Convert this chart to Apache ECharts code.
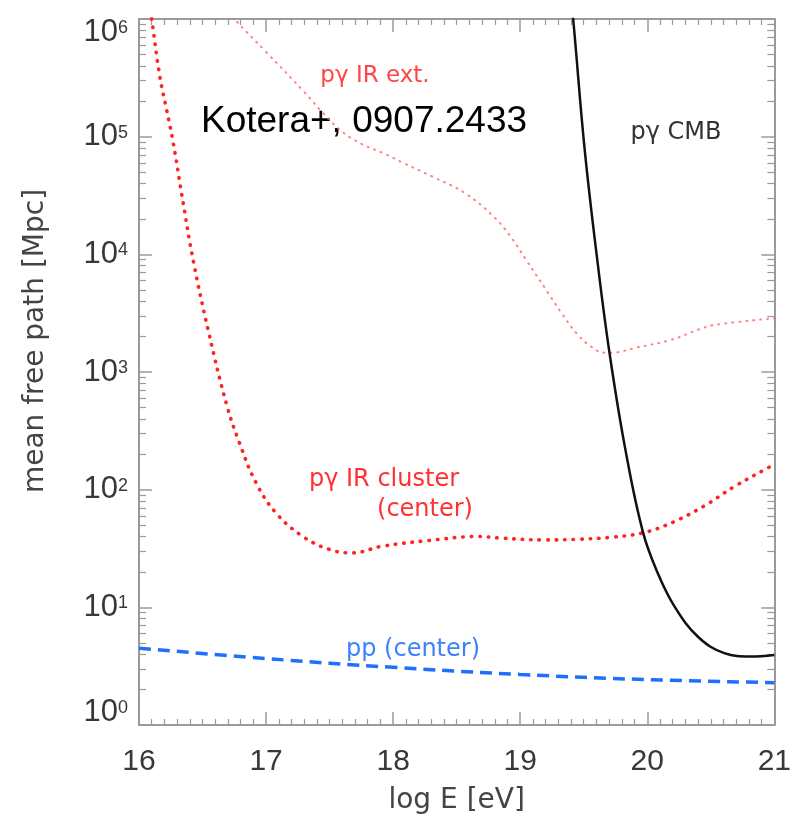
<!DOCTYPE html>
<html><head><meta charset="utf-8">
<script src="https://cdn.jsdelivr.net/npm/echarts@6/dist/echarts.min.js"></script>
<style>html,body{margin:0;padding:0;background:#fff}#c{width:794px;height:824px}</style>
</head><body><div id="c"></div>
<script>
// ---- data (log E [eV], mean free path [Mpc]) ----
const xTickValues = [16, 17, 18, 19, 20, 21];
const yDecadeExponents = [0, 1, 2, 3, 4, 5, 6];

const cmbE   = [19.40, 19.417, 19.508, 19.613, 19.703, 19.824, 19.965, 20.083, 20.214, 20.397, 20.606, 20.81, 21.00];
const cmbMfp = [1.4e6, 1.0e6, 7.7e4, 7.9e3, 1450, 231, 44, 19.5, 10.2, 5.65, 4.08, 3.82, 3.94];

const clusterE   = [16.08, 16.10, 16.165, 16.217, 16.27, 16.335, 16.43, 16.55, 16.69, 16.79, 16.92, 17.08, 17.29, 17.50, 17.68, 17.91, 18.28, 18.67, 18.855, 19.195, 19.456, 19.717, 19.979, 20.214, 20.449, 20.684, 20.958, 21.0];
const clusterMfp = [1.4e6, 1.0e6, 3.2e5, 1.69e5, 8.8e4, 3.3e4, 8500, 2140, 525, 251, 115, 63, 40, 31, 29, 33, 37, 40, 38.7, 37.4, 37.9, 39.4, 43.3, 53.6, 72.8, 106, 155, 164];

const extE   = [16.70, 16.75, 17.0, 17.3, 17.45, 17.6, 17.75, 17.94, 18.07, 18.31, 18.568, 18.803, 18.934, 19.038, 19.221, 19.326, 19.443, 19.548, 19.665, 19.717, 19.913, 20.187, 20.397, 20.527, 21.0];
const extMfp = [1.17e6, 1.0e6, 5.25e5, 2.4e5, 1.58e5, 1.1e5, 8.7e4, 7.1e4, 6.05e4, 4.57e4, 3.3e4, 2.03e4, 1.37e4, 9270, 4680, 3160, 2140, 1670, 1460, 1460, 1610, 1875, 2280, 2510, 2860];

const ppE   = [16, 17, 18, 19, 20, 21];
const ppMfp = [4.5, 3.67, 3.09, 2.69, 2.43, 2.29];

// ---- build ----
const pairs = (xs, ys) => xs.map((x, i) => [x, ys[i]]);
const minorLog = [];
for (let n = 0; n < 6; n++) for (let k = 2; k <= 9; k++) minorLog.push(n + Math.log10(k));

const AX = '#9a9a9a';
const TXT = '#383838';

const chart = echarts.init(document.getElementById('c'), null, {renderer: 'canvas'});

function xAx(pos, labels) {
  return {
    type: 'value', position: pos, min: 16, max: 21, interval: 1,
    name: labels ? 'log E [eV]' : '', nameLocation: 'middle', nameGap: 62,
    nameTextStyle: {fontFamily: 'DejaVu Sans', fontSize: 28, color: '#444'},
    axisLine: {show: true, onZero: false, lineStyle: {color: AX, width: 2}},
    axisTick: {show: true, inside: true, length: 13, lineStyle: {color: AX, width: 1.5}},
    minorTick: {show: true, splitNumber: 10, length: 6, lineStyle: {color: AX, width: 1.2}},
    axisLabel: {show: labels, margin: 22, fontFamily: 'Liberation Sans', fontSize: 30, color: TXT},
    splitLine: {show: false}, minorSplitLine: {show: false}
  };
}
function yMajor(pos, labels) {
  return {
    type: 'value', position: pos, min: 0, max: 6, interval: 1,
    axisLine: {show: true, onZero: false, lineStyle: {color: AX, width: 2}},
    axisTick: {show: true, inside: true, length: 13, lineStyle: {color: AX, width: 1.5}},
    axisLabel: {
      show: labels, margin: 11,
      formatter: v => '{b|10}{s|' + v + '}',
      verticalAlignMinLabel: 'bottom', verticalAlignMaxLabel: 'top',
      rich: {
        b: {fontFamily: 'Liberation Sans', fontSize: 31, color: TXT, lineHeight: 26},
        s: {fontFamily: 'Liberation Sans', fontSize: 18, color: TXT, verticalAlign: 'top', lineHeight: 16}
      }
    },
    splitLine: {show: false}
  };
}
function yMinor(pos) {
  return {
    type: 'value', position: pos, min: 0, max: 6,
    axisLine: {show: false},
    axisTick: {show: true, inside: true, length: 7, customValues: minorLog, lineStyle: {color: AX, width: 1.2}},
    axisLabel: {show: false},
    splitLine: {show: false}
  };
}

chart.setOption({
  backgroundColor: '#fff',
  animation: false,
  grid: {left: 139, right: 17, top: 19, bottom: 99, containLabel: false},
  xAxis: [xAx('bottom', true), xAx('top', false)],
  yAxis: [
    {type: 'log', logBase: 10, min: 1, max: 1e6, show: false},
    yMajor('left', true), yMinor('left'), yMajor('right', false), yMinor('right')
  ],
  series: [
    {name: 'pγ IR ext.', type: 'line', xAxisIndex: 0, yAxisIndex: 0, data: pairs(extE, extMfp),
     showSymbol: false, smooth: 0.4, clip: true,
     lineStyle: {color: '#ff5a5a', width: 2, type: [1, 6], cap: 'round', opacity: 0.75}},
    {name: 'pγ IR cluster (center)', type: 'line', xAxisIndex: 0, yAxisIndex: 0, data: pairs(clusterE, clusterMfp),
     showSymbol: false, smooth: 0.4, clip: true,
     lineStyle: {color: '#ff2424', width: 3.6, type: [0.5, 8], cap: 'round'}},
    {name: 'pp (center)', type: 'line', xAxisIndex: 0, yAxisIndex: 0, data: pairs(ppE, ppMfp),
     showSymbol: false, smooth: 0.4, clip: true,
     lineStyle: {color: '#1f6fff', width: 3.5, type: [12, 7]}},
    {name: 'pγ CMB', type: 'line', xAxisIndex: 0, yAxisIndex: 0, data: pairs(cmbE, cmbMfp),
     showSymbol: false, smooth: 0.4, clip: true,
     lineStyle: {color: '#111', width: 2.5}}
  ],
  graphic: [
    {type: 'text', x: 375, y: 76, style: {text: 'pγ IR ext.', fill: '#ff4545', font: '23px "DejaVu Sans"', align: 'center', verticalAlign: 'middle'}},
    {type: 'text', x: 201, y: 122, style: {text: 'Kotera+, 0907.2433', fill: '#000', font: '37px "Liberation Sans"', align: 'left', verticalAlign: 'middle'}},
    {type: 'text', x: 676, y: 133, style: {text: 'pγ CMB', fill: '#333', font: '24px "DejaVu Sans"', align: 'center', verticalAlign: 'middle'}},
    {type: 'text', x: 384, y: 480, style: {text: 'pγ IR cluster', fill: '#ff3030', font: '24px "DejaVu Sans"', align: 'center', verticalAlign: 'middle'}},
    {type: 'text', x: 425, y: 510, style: {text: '(center)', fill: '#ff3030', font: '24px "DejaVu Sans"', align: 'center', verticalAlign: 'middle'}},
    {type: 'text', x: 413, y: 650, style: {text: 'pp (center)', fill: '#3b82ff', font: '24px "DejaVu Sans"', align: 'center', verticalAlign: 'middle'}},
    {type: 'text', x: 36, y: 341, rotation: Math.PI / 2, style: {text: 'mean free path [Mpc]', fill: '#444', font: '28px "DejaVu Sans"', align: 'center', verticalAlign: 'middle'}}
  ]
});
</script></body></html>
